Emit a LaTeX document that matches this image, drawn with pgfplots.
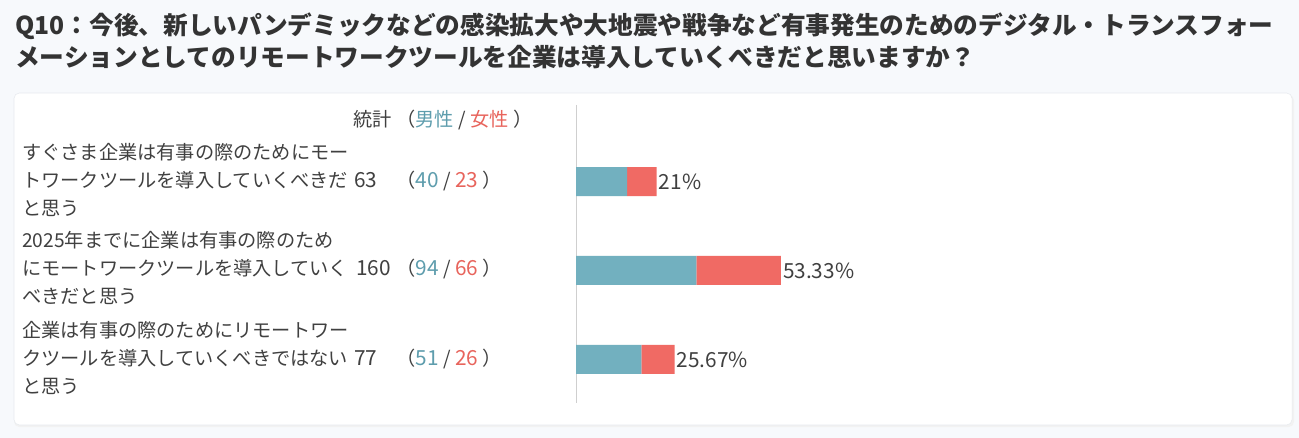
\documentclass[border=0pt]{standalone}
\usepackage{fontspec}
\setmainfont{Noto Sans CJK JP}
\usepackage{pgfplots}
\pgfplotsset{compat=1.18}
\definecolor{bg}{HTML}{F7F9FC}
\definecolor{cardborder}{HTML}{E6E9EE}
\definecolor{titlec}{HTML}{333333}
\definecolor{textc}{HTML}{404040}
\definecolor{malebar}{HTML}{72B0BF}
\definecolor{femalebar}{HTML}{F06A64}
\definecolor{maletext}{HTML}{5E9DAD}
\definecolor{femaletext}{HTML}{E8645C}
\definecolor{axisline}{HTML}{CFCFCF}
\newcommand{\bodyfont}{\fontsize{14.4pt}{18pt}\selectfont}
\newcommand{\numfont}{\fontsize{15.6pt}{18pt}\selectfont}
\newcommand{\stat}[2]{（\textcolor{maletext}{#1}\hspace{3.5pt}/\hspace{3.5pt}\textcolor{femaletext}{#2}\hspace{3pt}）}
\newcommand{\nstat}[2]{（\textcolor{maletext}{\numfont #1}\hspace{3.5pt}/\hspace{3.5pt}\textcolor{femaletext}{\numfont #2}\hspace{3pt}）}
\begin{document}
\begin{tikzpicture}
\begin{scope}[x=0.75pt,y=-0.75pt]
\fill[bg] (0,0) rectangle (1299,438);
\fill[black!5, rounded corners=4pt] (14,95) rectangle (1294,427);
\fill[white, draw=cardborder, rounded corners=4pt] (14,93) rectangle (1292,425);
\node[anchor=base west, inner sep=0, font=\fontsize{18.5pt}{22pt}\selectfont\bfseries, text=titlec] at (15,35) {Q10：今後、新しいパンデミックなどの感染拡大や大地震や戦争など有事発生のためのデジタル・トランスフォー};
\node[anchor=base west, inner sep=0, font=\fontsize{18.5pt}{22pt}\selectfont\bfseries, text=titlec] at (15,67) {メーションとしてのリモートワークツールを企業は導入していくべきだと思いますか？};
% header
\node[anchor=base west, inner sep=0, font=\bodyfont, text=textc] at (353,127) {統計};
\node[anchor=base west, inner sep=0, font=\bodyfont, text=textc] at (396,127) {\stat{男性}{女性}};
% row 1
\node[anchor=base west, inner sep=0, font=\bodyfont, text=textc] at (22,159.5) {すぐさま企業は有事の際のためにモー};
\node[anchor=base west, inner sep=0, font=\bodyfont, text=textc] at (22,187.5) {トワークツールを導入していくべきだ};
\node[anchor=base west, inner sep=0, font=\bodyfont, text=textc] at (22,215.5) {と思う};
\node[anchor=base west, inner sep=0, font=\numfont, text=textc] at (354,187.5) {63};
\node[anchor=base west, inner sep=0, font=\bodyfont, text=textc] at (396,187.5) {\nstat{40}{23}};
% row 2
\node[anchor=base west, inner sep=0, font=\bodyfont, text=textc] at (22,248) {2025年までに企業は有事の際のため};
\node[anchor=base west, inner sep=0, font=\bodyfont, text=textc] at (22,276) {にモートワークツールを導入していく};
\node[anchor=base west, inner sep=0, font=\bodyfont, text=textc] at (22,304) {べきだと思う};
\node[anchor=base west, inner sep=0, font=\numfont, text=textc] at (356,276) {160};
\node[anchor=base west, inner sep=0, font=\bodyfont, text=textc] at (396,276) {\nstat{94}{66}};
% row 3
\node[anchor=base west, inner sep=0, font=\bodyfont, text=textc] at (22,337) {企業は有事の際のためにリモートワー};
\node[anchor=base west, inner sep=0, font=\bodyfont, text=textc] at (22,365) {クツールを導入していくべきではない};
\node[anchor=base west, inner sep=0, font=\bodyfont, text=textc] at (22,393) {と思う};
\node[anchor=base west, inner sep=0, font=\numfont, text=textc] at (354,365) {77};
\node[anchor=base west, inner sep=0, font=\bodyfont, text=textc] at (396,365) {\nstat{51}{26}};
\draw[axisline, line width=0.75pt] (576,105) -- (576,403);
\end{scope}
\begin{axis}[
  at={(576*0.75pt,-403*0.75pt)}, anchor=south west,
  scale only axis, width=528pt, height=223.5pt,
  xmin=0, xmax=550, ymin=-0.86, ymax=2.49, y dir=reverse,
  hide axis, clip=false,
  xbar stacked, bar width=21.75pt,
  every axis plot/.append style={draw=none},
]
\addplot[fill=malebar] coordinates {(40,0) (94,1) (51,2)};
\addplot[fill=femalebar] coordinates {(23,0) (66,1) (26,2)};
\node[anchor=west, inner sep=1.5pt, font=\numfont, text=textc] at (axis cs:63,0) {21\%};
\node[anchor=west, inner sep=1.5pt, font=\numfont, text=textc] at (axis cs:160,1) {53.33\%};
\node[anchor=west, inner sep=1.5pt, font=\numfont, text=textc] at (axis cs:77,2) {25.67\%};
\end{axis}
\end{tikzpicture}
\end{document}
